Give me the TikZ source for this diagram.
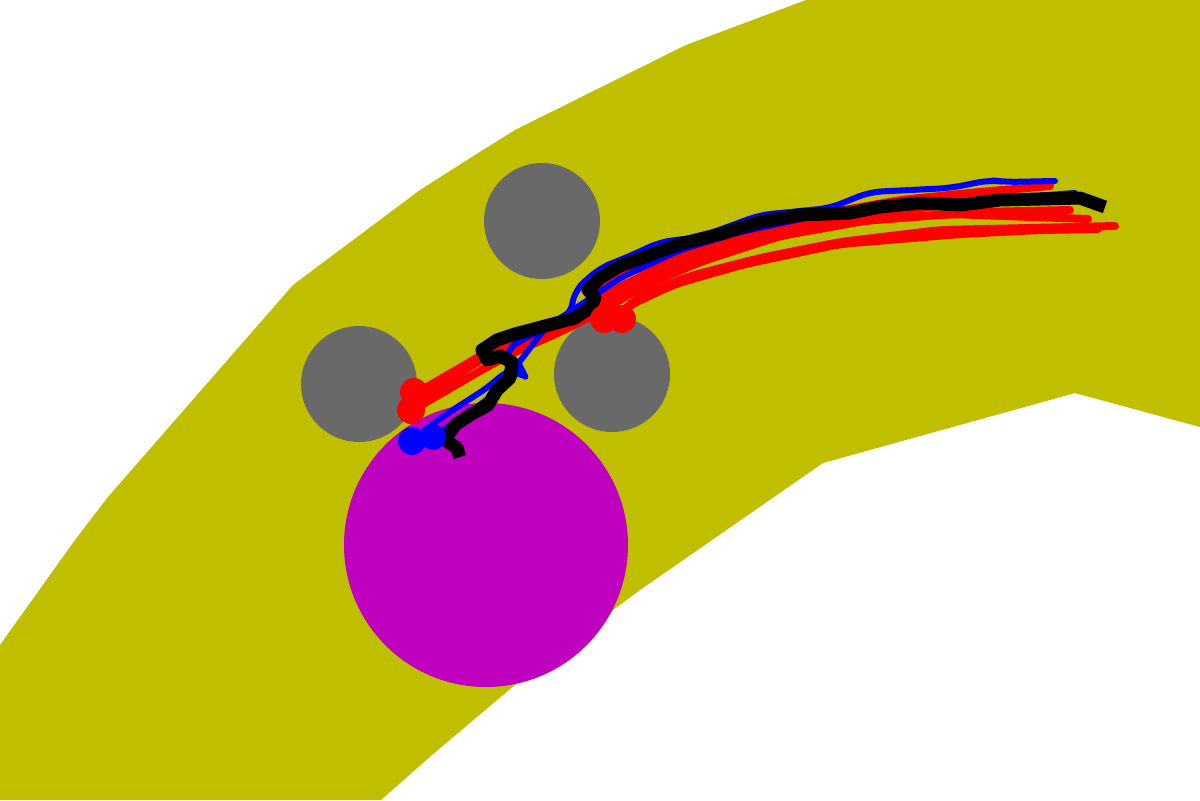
\documentclass[tikz,border=0pt]{standalone}
\usetikzlibrary{calc}

\definecolor{bandyellow}{rgb}{0.75,0.75,0}
\definecolor{obsgray}{HTML}{696969}
\definecolor{goalmag}{rgb}{0.75,0,0.75}

\begin{document}
\begin{tikzpicture}[x=0.5pt, y=-0.5pt,
    % Define the styles for the paths
    redpath/.style={draw=red, line width=4pt, line cap=round, line join=round, rounded corners=6},
    bluepath/.style={draw=blue, line width=3pt, line cap=round, line join=round, rounded corners=6},
    blackpath/.style={draw=black, line width=6.5pt, line join=round},
    obstacle/.style={fill=obsgray}
]

% Fix the frame
\useasboundingbox (0,0) rectangle (1200,800);

% Draw the band
\fill[bandyellow] (0,645) -- (75,540) -- (108,497) -- (293,285) -- (420,190) -- (475,155)
  -- (515,130) -- (686,45) -- (806,0) -- (1200,0) -- (1200,427) -- (1075,393)
  -- (823,463) -- (640,590) -- (535,668) -- (432,755) -- (381,800) -- (0,800) -- cycle;

% Define the centres of the circles
\coordinate (O1) at (542,221);
\coordinate (O2) at (359,384);
\coordinate (O3) at (612,374);
\coordinate (G) at (486,545);

% Draw the obstacles and the goal
\fill[obstacle] (O1) circle (58);
\fill[obstacle] (O2) circle (58);
\fill[obstacle] (O3) circle (58);
\fill[goalmag] (G) circle (142);

% Draw the red paths
\draw[redpath] (413,395) -- (470,362) -- (490,350) -- (520,342) -- (575,318) -- (610,292)
  -- (650,272) -- (720,246) -- (800,218) -- (900,200) -- (980,192) -- (1050,186);
\draw[redpath] (413,405) -- (480,360) -- (530,340) -- (585,318) -- (620,290) -- (680,266)
  -- (760,240) -- (850,222) -- (950,214) -- (1088,219);
\draw[redpath] (413,410) -- (485,368) -- (515,352) -- (560,332) -- (600,312) -- (640,288)
  -- (700,262) -- (780,236) -- (870,220) -- (980,212) -- (1070,210);
\draw[redpath] (612,320) -- (640,296) -- (690,276) -- (760,258) -- (840,242) -- (940,230)
  -- (1030,228) -- (1115,226);
\draw[redpath] (612,320) -- (630,305) -- (675,284) -- (745,264) -- (840,244) -- (960,234)
  -- (1040,230) -- (1098,229);
\draw[redpath] (612,318) -- (585,302) -- (600,282) -- (640,268) -- (720,244) -- (800,225)
  -- (900,210) -- (1000,200) -- (1075,196);

% Draw the blue paths
\draw[bluepath] (412,440) -- (445,415) -- (490,386) -- (505,372) -- (520,366) -- (525,376)
  -- (512,372) -- (505,350) -- (540,330) -- (570,316) -- (575,290) -- (600,268)
  -- (630,256) -- (660,242) -- (700,237) -- (760,215) -- (830,208) -- (870,192)
  -- (950,188) -- (990,180) -- (1005,182) -- (1055,181);
\draw[bluepath] (433,437) -- (470,412) -- (500,390) -- (515,368) -- (545,328) -- (585,302)
  -- (620,278) -- (680,250) -- (740,232) -- (820,215) -- (900,205) -- (980,200) -- (1075,193);

% Draw the black path
\draw[blackpath] (460,457) -- (457,448) -- (445,440) -- (455,425) -- (470,415) -- (488,405)
  -- (497,390) -- (510,378) -- (512,362) -- (500,356) -- (487,360) -- (482,350)
  -- (497,340) -- (515,334) -- (545,326) -- (575,318) -- (590,308) -- (595,298)
  -- (588,290) -- (600,278) -- (620,266) -- (650,255) -- (680,244) -- (720,234)
  -- (760,222) -- (800,215) -- (850,213) -- (880,207) -- (920,203) -- (960,205)
  -- (1000,200) -- (1040,199) -- (1080,198) -- (1105,207);

% Mark the start points
\fill[red] (414,392) circle (14);
\fill[red] (411,410) circle (14);
\fill[red] (604,319) circle (14);
\fill[red] (622,319) circle (14);
\fill[blue] (412,441) circle (14);
\fill[blue] (433,437) circle (13);

\end{tikzpicture}
\end{document}
